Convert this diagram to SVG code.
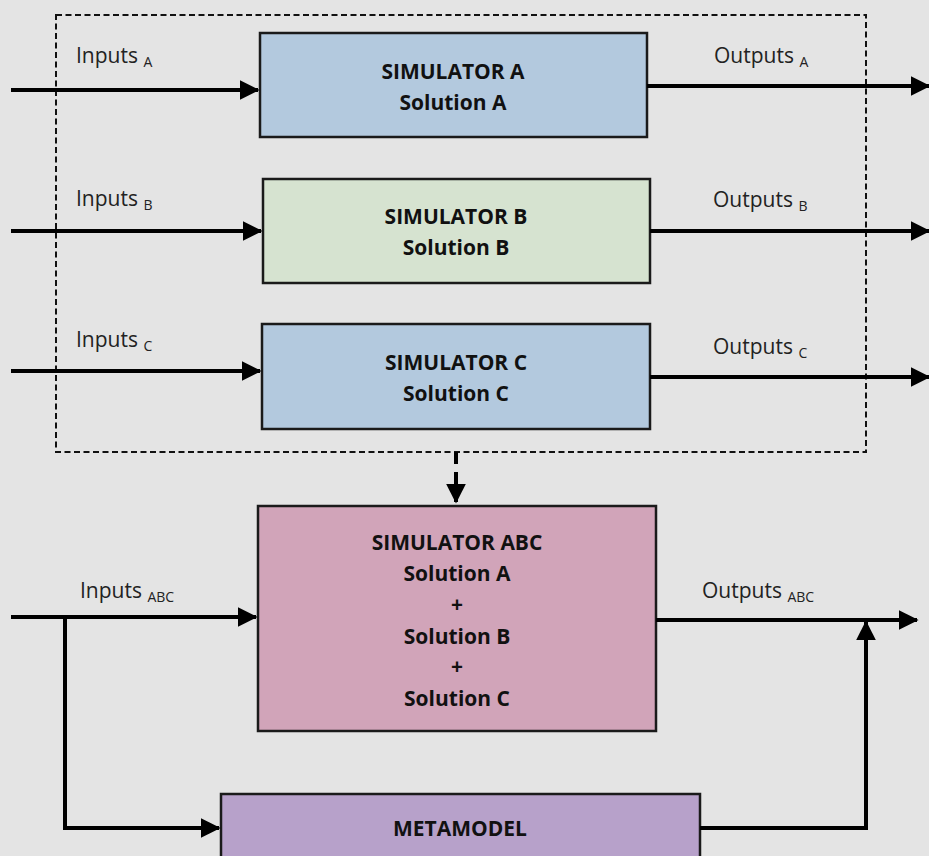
<svg xmlns="http://www.w3.org/2000/svg" width="929" height="856" viewBox="0 0 929 856">
<defs>
<marker id="ah" markerWidth="5" markerHeight="5" refX="4.6" refY="2.5" orient="auto" markerUnits="strokeWidth" viewBox="0 0 5 5">
<path d="M0,0 L5,2.5 L0,5 Z" fill="#000"/>
</marker>
</defs>
<style>
.bg{fill:#e4e4e4}
.box{stroke:#1a1a1a;stroke-width:2.5}
.lbl{font-family:"Open Sans","Liberation Sans",sans-serif;font-size:21px;fill:#222}
.sub{font-size:14px}
.ttl{font-family:"Open Sans","Liberation Sans",sans-serif;font-size:21px;font-weight:bold;fill:#111;text-anchor:middle}
.ln{fill:none;stroke:#000;stroke-width:4}
</style>
<rect class="bg" x="0" y="0" width="929" height="856"/>
<rect x="56" y="15" width="810" height="437" fill="none" stroke="#111" stroke-width="2" stroke-dasharray="6,3.5"/>
<g id="simA">
<rect class="box" x="260" y="33" width="387" height="104" fill="#b3c9de"/>
<text class="ttl" x="453" y="79">SIMULATOR A</text>
<text class="ttl" x="453" y="110">Solution A</text>
</g>
<g id="simB">
<rect class="box" x="263" y="179" width="387" height="104" fill="#d6e3d0"/>
<text class="ttl" x="456" y="224">SIMULATOR B</text>
<text class="ttl" x="456" y="255">Solution B</text>
</g>
<g id="simC">
<rect class="box" x="262" y="324" width="388" height="105" fill="#b3c9de"/>
<text class="ttl" x="456" y="370">SIMULATOR C</text>
<text class="ttl" x="456" y="401">Solution C</text>
</g>
<g id="simABC">
<rect class="box" x="258" y="506" width="398" height="225" fill="#d1a4b9"/>
<text class="ttl" x="457" y="550">SIMULATOR ABC</text>
<text class="ttl" x="457" y="581">Solution A</text>
<text class="ttl" x="457" y="612">+</text>
<text class="ttl" x="457" y="644">Solution B</text>
<text class="ttl" x="457" y="674">+</text>
<text class="ttl" x="457" y="706">Solution C</text>
</g>
<g id="metamodel">
<rect class="box" x="221" y="794" width="479" height="70" fill="#b7a1ca"/>
<text class="ttl" x="460" y="836">METAMODEL</text>
</g>
<g id="labels">
<text class="lbl" x="76" y="63">Inputs <tspan class="sub" dy="4">A</tspan></text>
<text class="lbl" x="714" y="63">Outputs <tspan class="sub" dy="4">A</tspan></text>
<text class="lbl" x="76" y="206">Inputs <tspan class="sub" dy="4">B</tspan></text>
<text class="lbl" x="713" y="207">Outputs <tspan class="sub" dy="4">B</tspan></text>
<text class="lbl" x="76" y="347">Inputs <tspan class="sub" dy="4">C</tspan></text>
<text class="lbl" x="713" y="354">Outputs <tspan class="sub" dy="4">C</tspan></text>
<text class="lbl" x="80" y="598">Inputs <tspan class="sub" dy="4">ABC</tspan></text>
<text class="lbl" x="702" y="598">Outputs <tspan class="sub" dy="4">ABC</tspan></text>
</g>
<g id="connectors">
<line class="ln" x1="11" y1="90" x2="258" y2="90" marker-end="url(#ah)"/>
<line class="ln" x1="647" y1="86" x2="929" y2="86" marker-end="url(#ah)"/>
<line class="ln" x1="11" y1="231" x2="261" y2="231" marker-end="url(#ah)"/>
<line class="ln" x1="650" y1="231" x2="929" y2="231" marker-end="url(#ah)"/>
<line class="ln" x1="11" y1="371" x2="260" y2="371" marker-end="url(#ah)"/>
<line class="ln" x1="650" y1="377" x2="929" y2="377" marker-end="url(#ah)"/>
<line x1="456" y1="452" x2="456" y2="502" stroke="#000" stroke-width="4" stroke-dasharray="12,8" marker-end="url(#ah)"/>
<line class="ln" x1="11" y1="617" x2="256" y2="617" marker-end="url(#ah)"/>
<polyline class="ln" points="65,617 65,828 219,828" marker-end="url(#ah)"/>
<line class="ln" x1="656" y1="620" x2="917" y2="620" marker-end="url(#ah)"/>
<polyline class="ln" points="700,828 866,828 866,622" marker-end="url(#ah)"/>
</g>
</svg>
